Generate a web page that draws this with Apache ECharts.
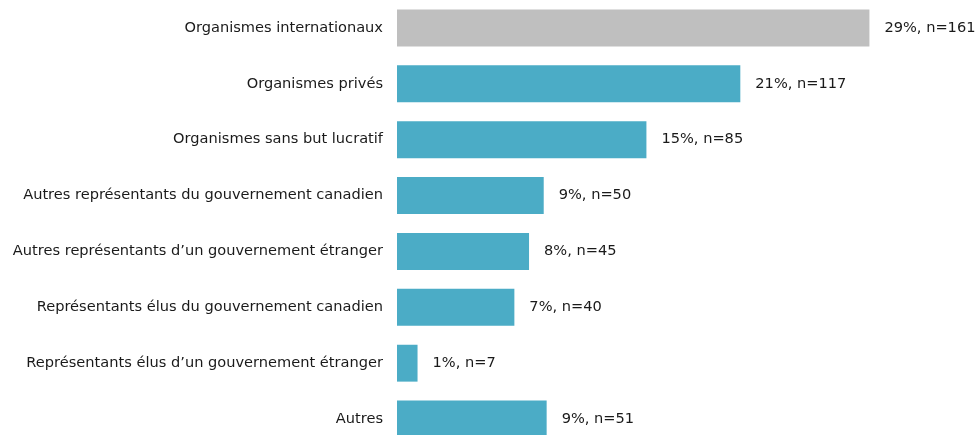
<!DOCTYPE html>
<html>
<head>
<meta charset="utf-8">
<script src="https://cdn.jsdelivr.net/npm/echarts@6/dist/echarts.min.js"></script>
<style>
  html, body { margin: 0; padding: 0; background: #fff; overflow: hidden; }
  /* the chart is a little taller than the window, so the last bar is clipped at the bottom */
  #chart { width: 978px; height: 447px; }
</style>
</head>
<body>
<div id="chart"></div>
<script>
// Répondants par type d'organisme
const categories = [
  "Organismes internationaux",
  "Organismes privés",
  "Organismes sans but lucratif",
  "Autres représentants du gouvernement canadien",
  "Autres représentants d\u2019un gouvernement étranger",
  "Représentants élus du gouvernement canadien",
  "Représentants élus d\u2019un gouvernement étranger",
  "Autres"
];
const percents = [29, 21, 15, 9, 8, 7, 1, 9];
const counts = [161, 117, 85, 50, 45, 40, 7, 51];
const barColors = ["#BFBFBF", "#4BACC6", "#4BACC6", "#4BACC6", "#4BACC6", "#4BACC6", "#4BACC6", "#4BACC6"];

const FONT = "DejaVu Sans, Verdana, sans-serif";
const TEXT = "#1a1a1a";

const chart = echarts.init(document.getElementById("chart"), null, { renderer: "canvas" });

chart.setOption({
  animation: false,
  grid: { left: 397, top: 0, right: 0, bottom: 0, containLabel: false },
  xAxis: {
    type: "value",
    min: 0,
    max: 198,
    show: false
  },
  yAxis: {
    type: "category",
    inverse: true,
    data: categories,
    axisLine: { show: false },
    axisTick: { show: false },
    splitLine: { show: false },
    axisLabel: { margin: 14, color: TEXT, fontFamily: FONT, fontSize: 14.6 }
  },
  series: [{
    type: "bar",
    barCategoryGap: "34%",
    data: counts.map((v, i) => ({ value: v, itemStyle: { color: barColors[i] } })),
    label: {
      show: true,
      position: "right",
      distance: 15,
      color: TEXT,
      fontFamily: FONT,
      fontSize: 14.6,
      formatter: p => percents[p.dataIndex] + "%, n=" + counts[p.dataIndex]
    }
  }]
});
</script>
</body>
</html>
